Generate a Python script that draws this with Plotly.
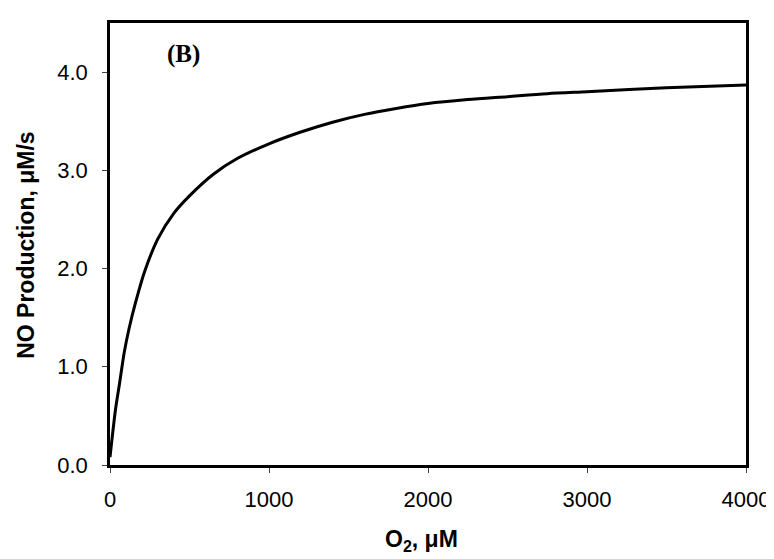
import plotly.graph_objects as go

# Data
o2_uM = [0, 15, 35, 60, 90, 120, 160, 220, 300, 400, 500, 650, 800, 1000,
         1200, 1400, 1600, 1800, 2000, 2250, 2500, 2750, 3000, 3500, 4000]
no_production = [0.08, 0.30, 0.57, 0.83, 1.15, 1.39, 1.65, 1.98, 2.30, 2.56,
                 2.74, 2.96, 3.12, 3.27, 3.39, 3.49, 3.57, 3.63, 3.68, 3.72,
                 3.75, 3.78, 3.80, 3.84, 3.87]

x_ticks = [0, 1000, 2000, 3000, 4000]
y_ticks = [0, 1, 2, 3, 4]
y_tick_labels = ["0.0", "1.0", "2.0", "3.0", "4.0"]

fig = go.Figure()
fig.add_trace(go.Scatter(
    x=o2_uM, y=no_production, mode="lines",
    line=dict(color="black", width=3, shape="spline", smoothing=0.8),
    showlegend=False, hoverinfo="skip",
))

axis_common = dict(
    showgrid=False, zeroline=False, showline=True, linecolor="black",
    linewidth=2.5, mirror=True, ticks="outside", ticklen=5, tickwidth=1,
    tickcolor="#444", tickfont=dict(family="Liberation Sans, Arial", size=22, color="black"),
)

fig.update_xaxes(range=[0, 4000], tickvals=x_ticks, ticklabelstandoff=8, **axis_common)
fig.update_yaxes(range=[0, 4.5], tickvals=y_ticks, ticktext=y_tick_labels,
                 ticklabelstandoff=10, **axis_common)

fig.add_annotation(text="<b>O<sub>2</sub>, μM</b>", xref="paper", yref="paper",
                   x=0.49, y=-0.17, xanchor="center", yanchor="middle", showarrow=False,
                   font=dict(family="Liberation Sans, Arial", size=23, color="black"))
fig.add_annotation(text="<b>NO Production, μM/s</b>", xref="paper", yref="paper",
                   x=-0.132, y=0.496, xanchor="center", yanchor="middle", textangle=-90,
                   showarrow=False,
                   font=dict(family="Liberation Sans, Arial", size=23, color="black"))
fig.add_annotation(text="<b>(B)</b>", xref="x", yref="y", x=460, y=4.18,
                   xanchor="center", yanchor="middle", showarrow=False,
                   font=dict(family="Liberation Serif, Times New Roman", size=25, color="black"))

fig.update_layout(
    width=774, height=559,
    margin=dict(l=102, r=28, t=12, b=102),
    paper_bgcolor="white", plot_bgcolor="white",
)

fig.write_html("out.html")
